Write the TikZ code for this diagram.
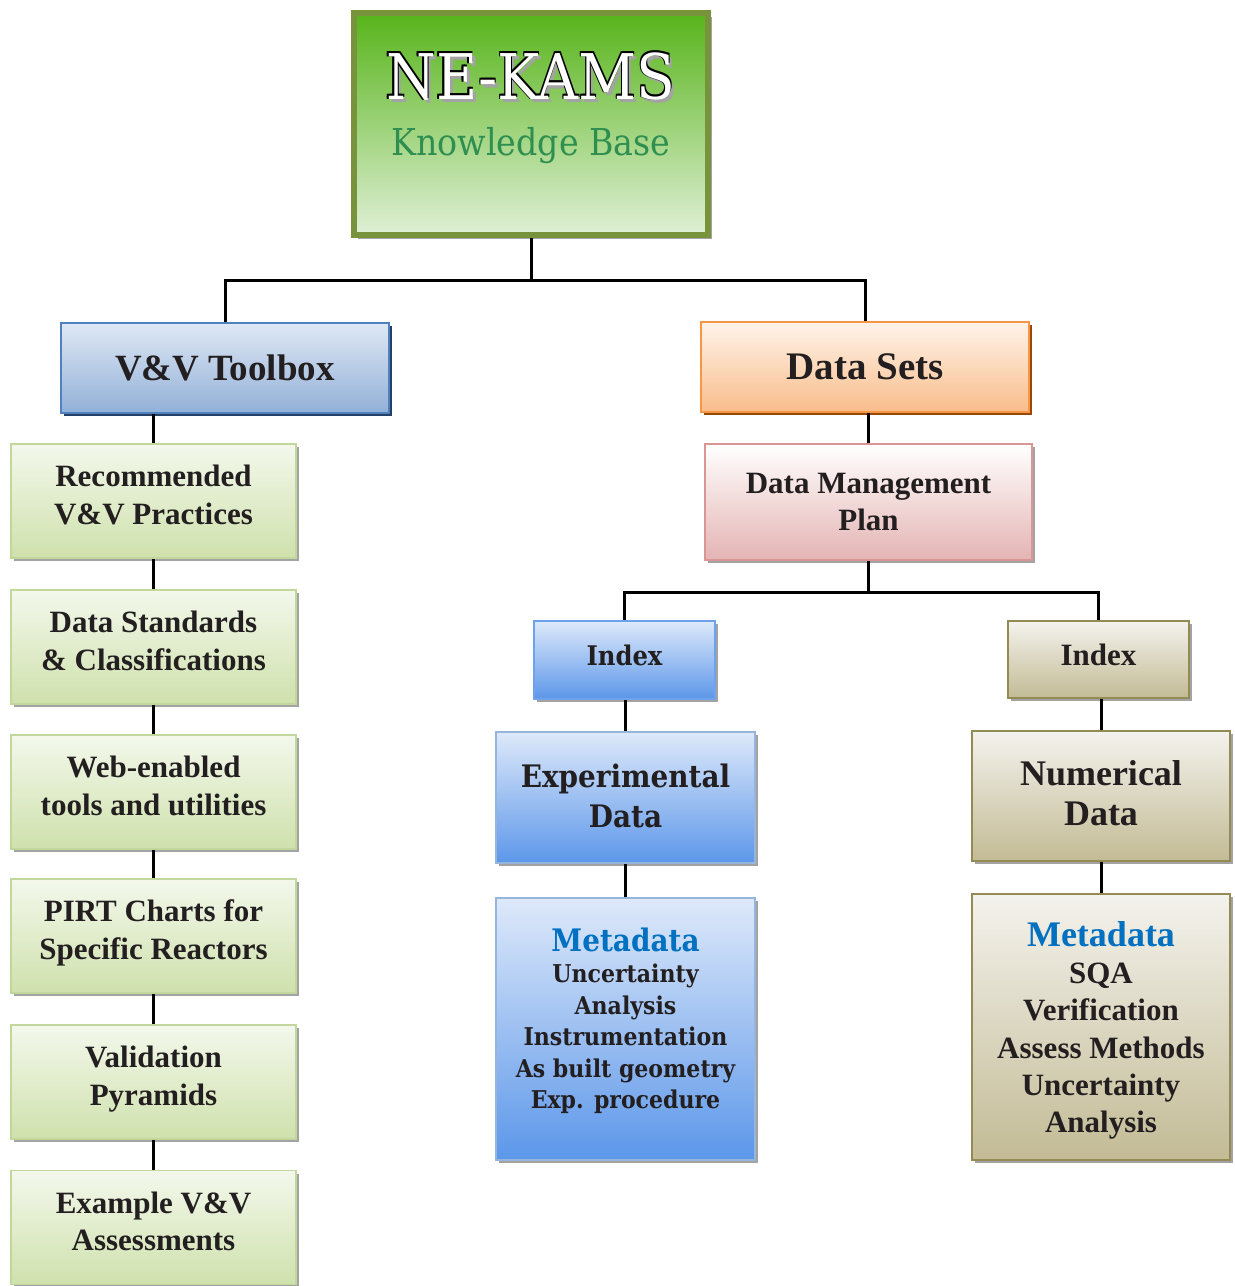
\documentclass[tikz,border=0pt]{standalone}
\usepackage{fontspec}
\setmainfont{Liberation Serif}
\newfontfamily\camb{DejaVu Serif Condensed}
\usetikzlibrary{shadows}
\definecolor{txt}{HTML}{231F20}
\definecolor{shgray}{HTML}{A3A3A3}
\definecolor{gbord}{HTML}{C3D69B}
\definecolor{gtop}{HTML}{F3F8EC}
\definecolor{gbot}{HTML}{CFE1AC}
\definecolor{vvbord}{HTML}{4F81BD}
\definecolor{vvtop}{HTML}{DFE8F4}
\definecolor{vvbot}{HTML}{92B0D8}
\definecolor{vvsh}{HTML}{244066}
\definecolor{dsbord}{HTML}{F79646}
\definecolor{dstop}{HTML}{FEF3EA}
\definecolor{dsbot}{HTML}{F9BD8A}
\definecolor{dssh}{HTML}{984807}
\definecolor{dmbord}{HTML}{D99694}
\definecolor{dmbot}{HTML}{E4B4B3}
\definecolor{bbord}{HTML}{6EA2EC}
\definecolor{bbord2}{HTML}{97B5DA}
\definecolor{btop}{HTML}{DEE9FA}
\definecolor{bbot}{HTML}{5C97EA}
\definecolor{tbord}{HTML}{948A54}
\definecolor{ttop}{HTML}{F4F2ED}
\definecolor{tbot}{HTML}{C3BB95}
\definecolor{tibord}{HTML}{77933C}
\definecolor{titop}{HTML}{57B41A}
\definecolor{timid}{HTML}{A8D38C}
\definecolor{tibot}{HTML}{E0F0D6}
\definecolor{kb}{HTML}{2E8F50}
\definecolor{meta}{HTML}{0070C0}
\newcommand\embossed[1]{\leavevmode
  \rlap{\kern3pt\raisebox{-3pt}{\textcolor{shgray}{#1}}}%
  \rlap{\kern-1.6pt\raisebox{1.2pt}{\textcolor{black}{#1}}}%
  \rlap{\kern-1.6pt\raisebox{-0.6pt}{\textcolor{black}{#1}}}%
  \rlap{\kern0.6pt\raisebox{1.4pt}{\textcolor{black}{#1}}}%
  \textcolor{white}{#1}}
\tikzset{
  box/.style={draw, rectangle, align=center, inner sep=0pt, text=txt,
    line width=1.6pt, font=\bfseries\fontsize{31}{37.5}\selectfont},
  gsh/.style={drop shadow={shadow xshift=3pt, shadow yshift=-3pt, fill=shgray, opacity=1}},
  gbox/.style={box, gsh, draw=gbord, top color=gtop, bottom color=gbot,
    minimum width=285pt, minimum height=114pt, text height=59pt, text depth=13pt},
  vvbox/.style={box, draw=vvbord, top color=vvtop, bottom color=vvbot,
    drop shadow={shadow xshift=3pt, shadow yshift=-3pt, fill=vvsh, opacity=1}},
  dsbox/.style={box, draw=dsbord, top color=dstop, bottom color=dsbot,
    drop shadow={shadow xshift=3pt, shadow yshift=-3pt, fill=dssh, opacity=1}},
  dmbox/.style={box, gsh, draw=dmbord, top color=white, bottom color=dmbot},
  bbox/.style={box, gsh, draw=bbord2, top color=btop, bottom color=bbot},
  tbox/.style={box, gsh, draw=tbord, top color=ttop, bottom color=tbot},
  conn/.style={line width=3pt, black},
}
\begin{document}
\begin{tikzpicture}[x=1pt, y=-1pt]
\useasboundingbox (0,0) rectangle (1235,1286);
% title
\node[draw=tibord, line width=6pt, rectangle, inner sep=0pt, align=center,
  top color=titop, middle color=timid, bottom color=tibot,
  drop shadow={shadow xshift=4pt, shadow yshift=-4pt, fill=shgray, opacity=1},
  minimum width=354pt, minimum height=222pt,
  font=\camb\fontsize{37}{56}\selectfont] (top) at (531,124)
  {{\fontsize{63}{63}\selectfont\embossed{NE-KAMS}}\\
   \textcolor{kb}{Knowledge Base}\rule[-42pt]{0pt}{0pt}};
% level 1
\node[vvbox, minimum width=328pt, minimum height=90pt,
  font=\bfseries\fontsize{37}{40}\selectfont] (vv) at (225,368) {V\&V Toolbox};
\node[dsbox, minimum width=328pt, minimum height=90pt,
  font=\bfseries\fontsize{39}{42}\selectfont] (ds) at (865,367) {Data Sets};
% left column
\node[gbox] (g1) at (153.5,501) {Recommended\\V\&V Practices};
\node[gbox] (g2) at (153.5,647) {Data Standards\\\& Classifications};
\node[gbox] (g3) at (153.5,792) {Web-enabled\\tools and utilities};
\node[gbox] (g4) at (153.5,936) {PIRT Charts for\\Specific Reactors};
\node[gbox] (g5) at (153.5,1082) {Validation\\Pyramids};
\node[gbox] (g6) at (153.5,1227.5) {Example V\&V\\Assessments};
% right side
\node[dmbox, minimum width=327pt, minimum height=116pt] (dm) at (868.5,502)
  {Data Management\\Plan};
\node[bbox, draw=bbord, minimum width=181pt, minimum height=78pt, text depth=10pt,
  font=\camb\bfseries\fontsize{27}{30}\selectfont] (il) at (624.5,660) {Index};
\node[tbox, minimum width=181pt, minimum height=77pt, text depth=10pt] (ir) at (1098.5,659.5) {Index};
\node[bbox, minimum width=259pt, minimum height=131pt, text depth=4pt,
  font=\camb\bfseries\fontsize{31}{40}\selectfont] (ex) at (625.5,797.5)
  {Experimental\\Data};
\node[tbox, minimum width=258pt, minimum height=130pt, text depth=6pt,
  font=\bfseries\fontsize{36}{40}\selectfont] (nu) at (1101,796)
  {Numerical\\Data};
\node[bbox, minimum width=259pt, minimum height=262pt, text depth=22pt,
  font=\camb\bfseries\fontsize{24.5}{31.5}\selectfont] (ml) at (625.5,1029)
  {{\fontsize{31}{31.5}\selectfont\textcolor{meta}{Metadata}}\\
   Uncertainty\\Analysis\\Instrumentation\\As built geometry\\Exp. procedure};
\node[tbox, minimum width=258pt, minimum height=266pt, text depth=0pt,
  font=\bfseries\fontsize{31}{37.2}\selectfont] (mr) at (1101,1027)
  {{\fontsize{36}{37.2}\selectfont\textcolor{meta}{Metadata}}\\
   SQA\\Verification\\Assess Methods\\Uncertainty\\Analysis};
% connectors
\path (top.south) ++(0,42) coordinate (bus1);
\path (dm.south) ++(0,32) coordinate (bus2);
\draw[conn] (top.south) -- (bus1);
\draw[conn] (bus1) -| (vv.north);
\draw[conn] (bus1) -| (ds.north);
\draw[conn] (vv.south -| g1.north) -- (g1.north);
\draw[conn] (g1) -- (g2);
\draw[conn] (g2) -- (g3);
\draw[conn] (g3) -- (g4);
\draw[conn] (g4) -- (g5);
\draw[conn] (g5) -- (g6);
\draw[conn] (ds.south -| dm.north) -- (dm.north);
\draw[conn] (dm.south) -- (bus2);
\draw[conn] (bus2) -| (il.north);
\draw[conn] (bus2) -| (ir.north);
\draw[conn] (il.south -| ex.north) -- (ex.north);
\draw[conn] (ir.south -| nu.north) -- (nu.north);
\draw[conn] (ex) -- (ml);
\draw[conn] (nu) -- (mr);
\end{tikzpicture}
\end{document}
